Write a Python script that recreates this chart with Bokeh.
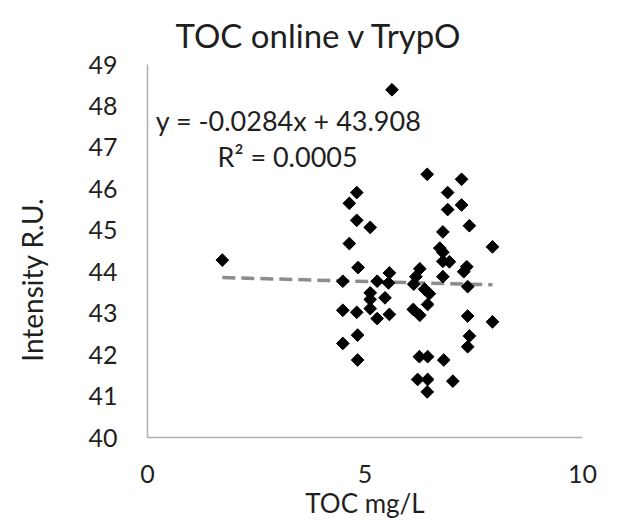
import numpy as np
from bokeh.plotting import figure
from bokeh.models import Range1d, Label, FixedTicker, Title
from bokeh.embed import file_html
from bokeh.resources import INLINE

toc = [1.72, 5.62,
       4.81, 4.64, 4.81, 5.12, 4.64, 4.84, 4.49, 5.28, 5.56, 5.54,
       5.12, 5.12, 5.12, 5.46, 4.49, 4.81, 5.28, 5.56, 4.83, 4.49, 4.83,
       6.43, 6.26, 6.17, 6.12, 6.37, 6.48, 6.44, 6.11, 6.26, 6.25, 6.44, 6.21, 6.44, 6.43,
       7.22, 6.90, 6.90, 7.22, 7.40, 6.79, 6.72, 6.79, 6.79, 6.94, 6.79, 7.34, 7.27,
       7.36, 7.36, 7.40, 7.36, 6.81, 7.02, 7.93, 7.93]
tryp = [44.28, 48.39,
        45.91, 45.65, 45.24, 45.07, 44.68, 44.10, 43.77, 43.77, 43.97, 43.73,
        43.49, 43.33, 43.11, 43.37, 43.07, 43.02, 42.87, 42.97, 42.47, 42.27, 41.87,
        46.35, 44.07, 43.88, 43.70, 43.58, 43.47, 43.21, 43.09, 42.95, 41.95, 41.95, 41.40, 41.40, 41.10,
        46.23, 45.91, 45.50, 45.61, 45.11, 44.96, 44.57, 44.47, 44.25, 44.24, 43.88, 44.12, 44.00,
        43.64, 42.93, 42.45, 42.19, 41.87, 41.36, 44.60, 42.79]

slope = -0.0284
intercept = 43.908
title_text = "TOC online v TrypO"
eq_text = "y = -0.0284x + 43.908"
r2_text = "R² = 0.0005"
x_title = "TOC mg/L"
y_title = "Intensity R.U."
x_ticks = [0, 5, 10]
y_ticks = [40, 41, 42, 43, 44, 45, 46, 47, 48, 49]

FONT = "Lato"
TXT = "#1f1f1f"

p = figure(width=607, height=523, output_backend="svg", toolbar_location=None,
           x_range=Range1d(0, 10), y_range=Range1d(40, 49),
           min_border_left=147, min_border_right=25, min_border_top=64, min_border_bottom=86)

p.grid.visible = False
p.outline_line_color = None

for ax in (p.xaxis[0], p.yaxis[0]):
    ax.axis_line_color = "#b0b0b0"
    ax.axis_line_width = 1.5
    ax.major_tick_line_color = None
    ax.minor_tick_line_color = None
    ax.major_tick_out = 0
    ax.major_tick_in = 0
    ax.major_label_text_font = FONT
    ax.major_label_text_font_size = "25px"
    ax.major_label_text_color = TXT
    ax.axis_label_text_font = FONT
    ax.axis_label_text_font_style = "normal"
    ax.axis_label_text_color = TXT

p.xaxis.ticker = FixedTicker(ticks=x_ticks)
p.yaxis.ticker = FixedTicker(ticks=y_ticks)
p.xaxis.major_label_standoff = 27
p.yaxis.major_label_standoff = 30

p.xaxis.axis_label = x_title
p.xaxis.axis_label_text_font_size = "26px"
p.xaxis.axis_label_standoff = 1

# trailing no-break spaces shift the centred label down, as in the reference
p.yaxis.axis_label = y_title + "\u00a0" * 8
p.yaxis.axis_label_text_font_size = "28px"
p.yaxis.axis_label_standoff = 36

t = Title(text=title_text, align="left", offset=28, standoff=20,
          text_font=FONT, text_font_size="33px", text_font_style="normal", text_color=TXT)
p.add_layout(t, "above")

xmin, xmax = min(toc), max(toc)
p.line([xmin, xmax], [slope * xmin + intercept, slope * xmax + intercept],
       line_color="#8c8c8c", line_width=3.5, line_dash="13 6")

p.scatter(toc, tryp, marker="square", angle=np.pi / 4, size=9,
          fill_color="black", line_color="black")

def lab(x, y, text, size, **kw):
    p.add_layout(Label(x=x, y=y, text=text, text_font=FONT, text_font_size=size,
                       text_color=TXT, **kw))

lab(0.19, 47.66, eq_text, "27px", text_baseline="middle", text_align="left")
lab(1.61, 46.79, r2_text, "27px", text_baseline="middle", text_align="left")

open("out.html", "w").write(file_html(p, INLINE))
